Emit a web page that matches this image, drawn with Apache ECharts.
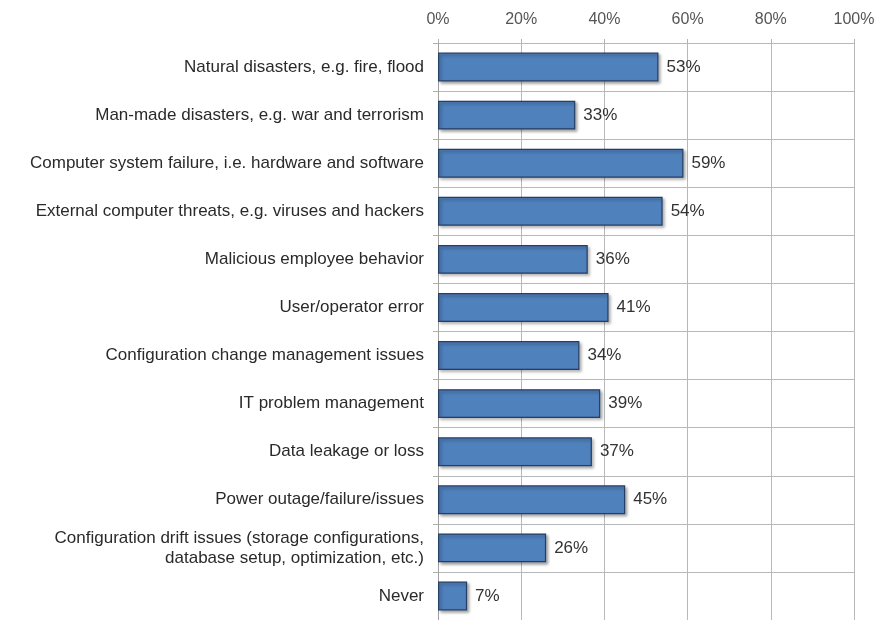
<!DOCTYPE html>
<html><head><meta charset="utf-8">
<script src="https://cdn.jsdelivr.net/npm/echarts@6/dist/echarts.min.js"></script>
<style>html,body{margin:0;padding:0;background:#fff}#c{width:887px;height:620px}</style>
</head><body><div id="c"></div>
<script>
const categories = [
  "Natural disasters, e.g. fire, flood",
  "Man-made disasters, e.g. war and terrorism",
  "Computer system failure, i.e. hardware and software",
  "External computer threats, e.g. viruses and hackers",
  "Malicious employee behavior",
  "User/operator error",
  "Configuration change management issues",
  "IT problem management",
  "Data leakage or loss",
  "Power outage/failure/issues",
  "Configuration drift issues (storage configurations,\ndatabase setup, optimization, etc.)",
  "Never"
];
const values = [53, 33, 59, 54, 36, 41, 34, 39, 37, 45, 26, 7];
const xTicks = [0, 20, 40, 60, 80, 100];

const chart = echarts.init(document.getElementById('c'), null, {renderer: 'canvas'});
chart.setOption({
  animation: false,
  grid: {left: 438, top: 43, width: 416, height: 581, containLabel: false},
  xAxis: {
    type: 'value', position: 'top', min: xTicks[0], max: xTicks[xTicks.length - 1], interval: 20,
    axisLabel: {formatter: '{value}%', color: '#555', fontSize: 16, fontFamily: 'Liberation Sans, Arial', margin: 15},
    axisLine: {show: false},
    axisTick: {show: true, length: 4, lineStyle: {color: '#b0b0b0'}},
    splitLine: {show: true, lineStyle: {color: '#b8b8b8', width: 1}}
  },
  yAxis: {
    type: 'category', data: categories, inverse: true,
    axisLine: {show: true, lineStyle: {color: '#a0a0a0'}},
    axisTick: {show: true, length: 5, lineStyle: {color: '#b0b0b0'}},
    axisLabel: {color: '#2a2a2a', fontSize: 17, fontFamily: 'Liberation Sans, Arial', margin: 14, lineHeight: 20, align: 'right'},
    splitLine: {show: true, lineStyle: {color: '#b8b8b8', width: 1}}
  },
  series: [{
    type: 'bar', data: values, barWidth: '60%',
    itemStyle: {color: '#4F81BD', borderColor: '#243F66', borderWidth: 1.2,
      shadowBlur: 3, shadowOffsetX: 2, shadowOffsetY: 2, shadowColor: 'rgba(0,0,0,0.35)'},
    label: {show: true, position: 'right', formatter: '{c}%', color: '#333', fontSize: 17, fontFamily: 'Liberation Sans, Arial', distance: 8}
  }]
});
</script></body></html>
